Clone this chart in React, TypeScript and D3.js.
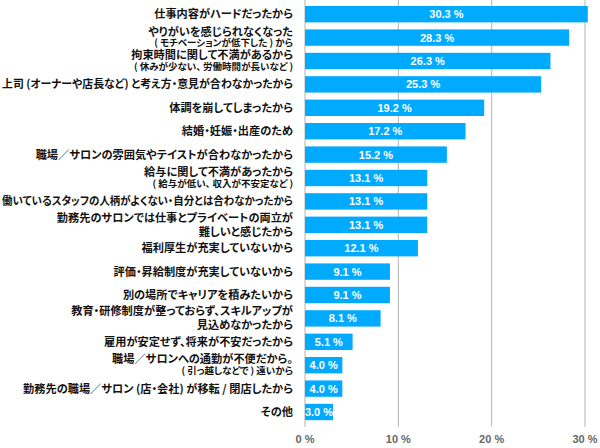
import React, { useLayoutEffect, useRef, useState } from "react";
import * as d3 from "d3";

const labelLine1 = [
  "仕事内容がハードだったから",
  "やりがいを感じられなくなった",
  "拘束時間に関して不満があるから",
  "上司 (オーナーや店長など) と考え方・意見が合わなかったから",
  "体調を崩してしまったから",
  "結婚・妊娠・出産のため",
  "職場／サロンの雰囲気やテイストが合わなかったから",
  "給与に関して不満があったから",
  "働いているスタッフの人柄がよくない・自分とは合わなかったから",
  "勤務先のサロンでは仕事とプライベートの両立が",
  "福利厚生が充実していないから",
  "評価・昇給制度が充実していないから",
  "別の場所でキャリアを積みたいから",
  "教育・研修制度が整っておらず、スキルアップが",
  "雇用が安定せず、将来が不安だったから",
  "職場／サロンへの通勤が不便だから。",
  "勤務先の職場／サロン (店・会社) が移転 / 閉店したから",
  "その他",
];

// second lines: small parenthetical notes
const labelNote = [
  "",
  "( モチベーションが低下した ) から",
  "( 休みが少ない、 労働時間が長いなど )",
  "",
  "",
  "",
  "",
  "( 給与が低い、 収入が不安定など )",
  "",
  "",
  "",
  "",
  "",
  "",
  "",
  "( 引っ越しなどで ) 遠いから",
  "",
  "",
];

// second lines: same size as the first
const labelLine2 = [
  "", "", "", "", "", "", "", "", "",
  "難しいと感じたから",
  "", "", "",
  "見込めなかったから",
  "", "", "", "",
];

const values = [30.3, 28.3, 26.3, 25.3, 19.2, 17.2, 15.2, 13.1, 13.1, 13.1, 12.1, 9.1, 9.1, 8.1, 5.1, 4.0, 4.0, 3.0];

const ticks = [0, 10, 20, 30];

const W = 600;
const H = 448;

const JP = "'Noto Sans CJK JP', 'Noto Sans', sans-serif";
const NUM = "'Liberation Sans', Arial, sans-serif";

function FitText(props: { x: number; y: number; size: number; maxW: number; children: string }) {
  const ref = useRef<SVGTextElement>(null);
  const [len, setLen] = useState<number | null>(null);
  useLayoutEffect(() => {
    if (ref.current) {
      const w = ref.current.getComputedTextLength();
      if (w > props.maxW) setLen(props.maxW);
    }
  }, [props.children, props.maxW]);
  return (
    <text
      ref={ref}
      x={props.x}
      y={props.y}
      textAnchor="end"
      fontFamily={JP}
      fontSize={props.size}
      fontWeight="bold"
      fill="#111"
      style={{ fontFeatureSettings: "'palt'" }}
      {...(len ? { textLength: len, lengthAdjust: "spacingAndGlyphs" } : {})}
    >
      {props.children}
    </text>
  );
}

export default function App() {
  const x = d3.scaleLinear().domain([0, 30]).range([305, 585]);
  const idx = values.map((_, i) => i);
  const y = d3
    .scaleBand<number>()
    .domain(idx)
    .range([2.5, 423.7])
    .paddingInner(0.3)
    .paddingOuter(0.15);
  const bw = y.bandwidth();
  const labelX = 293;
  const maxW = 291;
  const fs = 11.2;
  const fsNote = 9.5;

  return (
    <svg
      width={W}
      height={H}
      style={{ position: "absolute", left: 0, top: 0, background: "#fff" }}
    >
      {ticks.map((t) => (
        <g key={t}>
          <line x1={x(t)} x2={x(t)} y1={0} y2={427} stroke="#b3b3b3" strokeWidth={1} />
          <text
            x={x(t)}
            y={443}
            textAnchor="middle"
            fontFamily={NUM}
            fontSize={11}
            fontWeight="bold"
            fill="#666"
          >
            {t} %
          </text>
        </g>
      ))}
      {idx.map((i) => {
        const cy = (y(i) as number) + bw / 2;
        const x0 = x(0);
        const x1 = x(values[i]);
        return (
          <g key={i}>
            <rect x={x0} y={y(i)} width={x1 - x0} height={bw} fill="#00aaff" />
            <text
              x={(x0 + x1) / 2}
              y={cy + 4}
              textAnchor="middle"
              fontFamily={NUM}
              fontSize={11}
              fontWeight="bold"
              fill="#fff"
            >
              {values[i].toFixed(1)} %
            </text>
            {labelNote[i] ? (
              <>
                <FitText x={labelX} y={cy - 2} size={fs} maxW={maxW}>{labelLine1[i]}</FitText>
                <FitText x={labelX} y={cy + 8.5} size={fsNote} maxW={maxW}>{labelNote[i]}</FitText>
              </>
            ) : labelLine2[i] ? (
              <>
                <FitText x={labelX} y={cy - 3} size={fs} maxW={maxW}>{labelLine1[i]}</FitText>
                <FitText x={labelX} y={cy + 11} size={fs} maxW={maxW}>{labelLine2[i]}</FitText>
              </>
            ) : (
              <FitText x={labelX} y={cy + 4} size={fs} maxW={maxW}>{labelLine1[i]}</FitText>
            )}
          </g>
        );
      })}
    </svg>
  );
}
